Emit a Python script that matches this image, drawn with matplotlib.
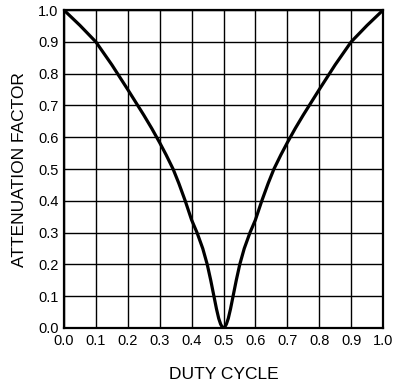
import matplotlib
matplotlib.use("Agg")
import matplotlib.pyplot as plt

plt.rcParams['font.family'] = ['Liberation Sans', 'DejaVu Sans']

# left half of the curve (the right half mirrors it)
duty_left = [0.0, 0.05, 0.1, 0.15, 0.2, 0.25, 0.275, 0.3, 0.32, 0.342, 0.36, 0.38, 0.4,
             0.417, 0.435, 0.449, 0.46, 0.47, 0.478, 0.485, 0.491, 0.496, 0.5]
atten_left = [1.0, 0.952, 0.9, 0.828, 0.75, 0.67, 0.628, 0.583, 0.545, 0.5, 0.455, 0.4, 0.34,
              0.3, 0.25, 0.2, 0.15, 0.1, 0.06, 0.03, 0.012, 0.003, 0.0]

duty = duty_left + [round(1.0 - d, 3) for d in reversed(duty_left[:-1])]
atten = atten_left + list(reversed(atten_left[:-1]))

ticks = [i / 10 for i in range(11)]
tick_labels = ["%.1f" % t for t in ticks]

fig = plt.figure(figsize=(4.0, 3.9), dpi=100)
ax = fig.add_axes([0.16, 0.159, 0.7975, 0.815])

ax.plot(duty, atten, color='black', linewidth=2.3, solid_joinstyle='round')

ax.set_xlim(0, 1)
ax.set_ylim(0, 1)
ax.set_xticks(ticks)
ax.set_yticks(ticks)
ax.set_xticklabels(tick_labels, fontsize=10.5)
ax.set_yticklabels(tick_labels, fontsize=10.5)
ax.tick_params(length=0, pad=4)
ax.grid(True, color='black', linewidth=1.0)
for s in ax.spines.values():
    s.set_linewidth(1.6)

ax.set_xlabel("DUTY CYCLE", fontsize=12.5, labelpad=14)
ax.set_ylabel("ATTENUATION FACTOR", fontsize=12.5, labelpad=8)

fig.savefig("out.png", dpi=100)
